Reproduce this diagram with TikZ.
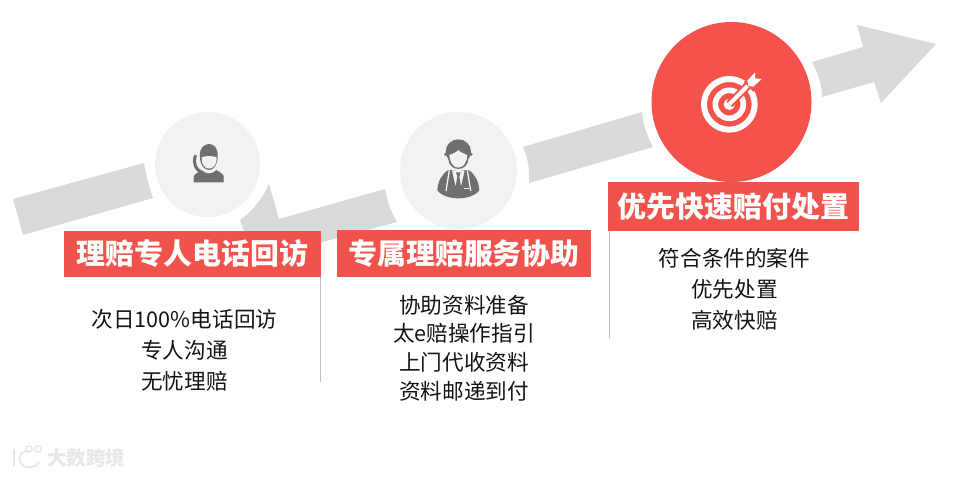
\documentclass[tikz,border=0pt]{standalone}
\usepackage{fontspec}
\setmainfont{Noto Sans CJK SC}
\definecolor{band}{HTML}{D9D9D9}
\definecolor{redlab}{HTML}{F0524C}
\definecolor{redcirc}{HTML}{F5524B}
\definecolor{softgray}{HTML}{F2F2F2}
\definecolor{icongray}{HTML}{6F6F6F}
\definecolor{rulegray}{HTML}{BFBFBF}
\definecolor{wm}{HTML}{E8E8E8}
\tikzset{
  bandseg/.style={fill=band,draw=none},
  softdisc/.style={circle,fill=softgray,draw=none,inner sep=0pt},
  labelbox/.style={fill=redlab,draw=none,text=white,inner sep=0pt,font=\fontsize{28.9}{29}\selectfont\bfseries,anchor=center},
  bodytext/.style={align=center,text=black!92,inner sep=0pt,anchor=center,font=\fontsize{21.6}{#1}\selectfont},
  sideline/.style={draw=rulegray,line width=1pt},
  icondark/.style={fill=icongray,draw=none},
  iconlight/.style={fill=softgray,draw=none},
}
\begin{document}
\begin{tikzpicture}[x=1pt,y=-1pt]
\useasboundingbox (0,0) rectangle (965,476);
\fill[white] (0,0) rectangle (965,476);
% arrow band pieces
\fill[bandseg] (13,199) -- (144,163) .. controls (146,175) and (149,187) .. (153,198) -- (23,235) -- cycle;
\fill[bandseg] (240,220) .. controls (252,212) and (262,199) .. (269,184) -- (279,219) -- (385,189)
   .. controls (387,201) and (391,212) .. (397,222) -- (300,248) -- (250,248) -- cycle;
\fill[bandseg] (523,147) -- (642,112) .. controls (643,124) and (647,136) .. (653,147) -- (529,183)
   .. controls (530,171) and (528,158) .. (523,147) -- cycle;
\fill[bandseg] (812,62) -- (863,47) -- (857,25) -- (936,44) -- (881,103) -- (874,82) -- (822,97)
   .. controls (822,85) and (818,73) .. (812,62) -- cycle;
% discs
\node[softdisc,minimum size=105pt] (disc1) at (207.5,164.5) {};
\node[softdisc,minimum size=117pt] (disc2) at (458.5,170.5) {};
\node[circle,fill=redcirc,draw=none,inner sep=0pt,minimum size=160pt] (disc3) at (731.5,102) {};
% side rules
\coordinate (r1a) at (320.5,277); \coordinate (r1b) at (320.5,382);
\coordinate (r2a) at (609.5,231); \coordinate (r2b) at (609.5,338);
\draw[sideline] (r1a) -- (r1b);
\draw[sideline] (r2a) -- (r2b);
% labels
\node[labelbox,minimum width=257pt,minimum height=46pt] (lab1) at (192.5,254) {理赔专人电话回访};
\node[labelbox,minimum width=254pt,minimum height=47pt] (lab2) at (464,253.5) {专属理赔服务协助};
\node[labelbox,minimum width=251pt,minimum height=49pt] (lab3) at (733.5,206.5) {优先快速赔付处置};
% body
\node[bodytext=31pt] (body1) at (184.5,350) {次日100\%电话回访\\专人沟通\\无忧理赔};
\node[bodytext=28.7pt] (body2) at (464,348) {协助资料准备\\太e赔操作指引\\上门代收资料\\资料邮递到付};
\node[bodytext=31pt] (body3) at (734.5,289) {符合条件的案件\\优先处置\\高效快赔};
% icon 1: person on the phone
\begin{scope}[shift={(185,140)},scale=1/3]
  \fill[icondark] (26,127) -- (26,108) .. controls (32,98) and (48,92) .. (62,90)
     -- (90,88) .. controls (102,94) and (112,100) .. (116,108) -- (116,127) -- cycle;
  \fill[iconlight] (72,60) ellipse [x radius=33, y radius=40];
  \fill[icondark] (45,50) .. controls (42,22) and (60,12) .. (72,12) .. controls (85,12) and (100,22) .. (98,50)
     .. controls (98,75) and (85,90) .. (72,90) .. controls (58,90) and (45,75) .. (45,50) -- cycle;
  \fill[iconlight] (50,52) .. controls (60,47) and (85,47) .. (95,52) .. controls (97,72) and (85,86) .. (72,86)
     .. controls (60,86) and (48,72) .. (50,52) -- cycle;
  \draw[icongray,line width=3pt,line cap=round] (31,48) .. controls (24,70) and (32,90) .. (50,97);
\end{scope}
% icon 2: man with a tie
\begin{scope}[shift={(430,135)},scale=1/3]
  \fill[icondark] (22,165) .. controls (24,140) and (34,118) .. (55,105) -- (115,105)
     .. controls (136,118) and (146,140) .. (148,165) .. controls (140,180) and (112,190) .. (85,190)
     .. controls (58,190) and (30,180) .. (22,165) -- cycle;
  \fill[iconlight] (85,65) ellipse [x radius=42, y radius=43];
  \draw[softgray,line width=1.3pt] (58,106) -- (48,168);
  \draw[softgray,line width=1.3pt] (112,106) -- (122,168);
  \fill[iconlight] (66,106) -- (104,106) -- (94,150) -- (85,166) -- (76,150) -- cycle;
  \fill[icondark] (85,50) ellipse [x radius=38, y radius=37];
  \fill[icondark] (85,72) ellipse [x radius=30, y radius=30];
  \fill[icondark] (47,58) circle (5);
  \fill[icondark] (123,58) circle (5);
  \fill[iconlight] (85,45) .. controls (78,54) and (66,56) .. (58,60) .. controls (58,80) and (70,98) .. (85,98)
     .. controls (100,98) and (112,80) .. (112,60) .. controls (104,56) and (92,54) .. (85,45) -- cycle;
  \fill[icondark] (78,112) -- (92,112) -- (88,125) -- (93,155) -- (85,168) -- (77,155) -- (82,125) -- cycle;
  \fill[iconlight] (102,159) rectangle (118,163);
\end{scope}
% icon 3: target
\begin{scope}[shift={(640,10)},scale=1/3]
  \draw[white,line width=6pt] (268,283) circle (76);
  \draw[white,line width=5.6pt] (268,283) circle (42);
  \fill[white] (268,283) circle (17);
  \draw[redcirc,line width=8pt] (268,283) -- (330,220);
  \draw[white,line width=4pt] (268,283) -- (332,218);
  \fill[redcirc] (312,216) -- (345,176) -- (376,212) -- (340,245) -- cycle;
  \fill[white] (322,212) -- (345,187) -- (345,205) -- (365,207) -- (340,230) -- (325,228) -- cycle;
\end{scope}
% watermark
\draw[wm,line width=2pt] (14,449) -- (14,466);
\draw[wm,line width=2pt] (29,451) .. controls (17,450) and (17,464) .. (26,467) .. controls (32,468) and (37,466) .. (39,462);
\draw[wm,line width=1.3pt] (29,449) circle (3.2);
\draw[wm,line width=1.3pt] (38,449) circle (3.2);
\node[text=wm,inner sep=0pt,font=\fontsize{19.5}{20}\selectfont\bfseries] (mark) at (86,458) {大数跨境};
\end{tikzpicture}
\end{document}
